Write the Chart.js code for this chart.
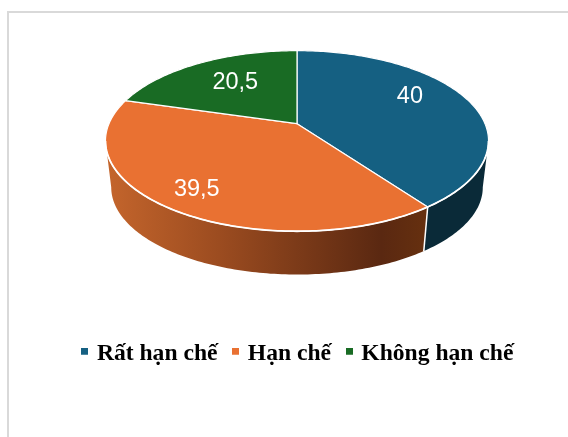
<!DOCTYPE html>
<html><head><meta charset="utf-8">
<script src="https://cdn.jsdelivr.net/npm/chart.js@4"></script>
<style>
html,body{margin:0;padding:0;background:#fff;overflow:hidden;width:568px;height:437px}
#frame{position:absolute;left:7px;top:11px;width:561px;height:426px;border-left:2px solid #d9d9d9;border-top:2px solid #d9d9d9;box-sizing:border-box}
canvas{position:absolute;left:0;top:0}
</style></head><body>
<div id="frame"></div>
<canvas id="c" width="568" height="437"></canvas>
<script>
const categories = ['Rất hạn chế', 'Hạn chế', 'Không hạn chế'];
const values = [40, 39.5, 20.5];
const valueLabels = ['40', '39,5', '20,5'];
const colors = ['#156082', '#E97132', '#196B24'];

// projective look of the tilted disc (style only; angles come from Chart.js arcs)
const view = {apexDx:-2, apexDy:-38.5, rx:188, ry:87, persp:0.191, wallDy:47, wallScale:0.97, wallRy:84};
const labelPlace = [{f:.72, shift:-9.5}, {f:.81, shift:0}, {f:.63, shift:2}];
const wallStops = [
  [['#0a2a38',0],['#0a2a38',1]],
  [['#c4652c',0],['#9c4c20',.35],['#5a2811',.86],['#66300f',1]],
  [['#196B24',0],['#196B24',1]]
];

function project(arc, th, f, lower){
  const u = f*Math.sin(th), d = -f*Math.cos(th), w = 1 + view.persp*f*Math.cos(th);
  const s = lower ? view.wallScale : 1;
  const ry = lower ? view.wallRy : view.ry;
  return {x: arc.x + view.apexDx + view.rx*s*u/w, y: arc.y + view.apexDy + (lower?view.wallDy:0) + ry*d/w};
}
function samples(a,b){const n=Math.max(8,Math.ceil(Math.abs(b-a)*60));const o=[];for(let i=0;i<=n;i++)o.push(a+(b-a)*i/n);return o;}

function squareMarker(color){
  const m=document.createElement('canvas');m.width=7;m.height=13;
  const g=m.getContext('2d');g.fillStyle=color;g.fillRect(0,0,7,7);return m;
}
const markers = colors.map(squareMarker);

const disc3d = {
  id:'disc3d',
  beforeDatasetDraw(chart){
    const ctx = chart.ctx, arcs = chart.getDatasetMeta(0).data;
    const frontA = Math.acos(-view.persp), frontB = 2*Math.PI-frontA;
    ctx.save();
    // side wall
    arcs.forEach((arc,i)=>{
      const a = Math.max(arc.startAngle+Math.PI/2, frontA), b = Math.min(arc.endAngle+Math.PI/2, frontB);
      if(b<=a) return;
      const ths = samples(a,b);
      ctx.beginPath();
      ths.forEach((t,k)=>{const p=project(arc,t,1,false);k?ctx.lineTo(p.x,p.y):ctx.moveTo(p.x,p.y);});
      ths.slice().reverse().forEach(t=>{const p=project(arc,t,1,true);ctx.lineTo(p.x,p.y);});
      ctx.closePath();
      const g=ctx.createLinearGradient(arc.x-192,0,arc.x+127,0);
      wallStops[i].forEach(s=>g.addColorStop(s[1],s[0]));
      ctx.fillStyle=g; ctx.fill();
    });
    // seam between wall pieces
    arcs.forEach(arc=>{
      const t=arc.startAngle+Math.PI/2;
      if(t>frontA&&t<frontB){const p=project(arc,t,1,false),q=project(arc,t,1,true);
        ctx.beginPath();ctx.moveTo(p.x,p.y);ctx.lineTo(q.x,q.y);ctx.strokeStyle='#fff';ctx.lineWidth=1.5;ctx.stroke();}
    });
    // top face
    arcs.forEach((arc,i)=>{
      const ths=samples(arc.startAngle+Math.PI/2, arc.endAngle+Math.PI/2);
      const c=project(arc,0,0,false);
      ctx.beginPath();ctx.moveTo(c.x,c.y);
      ths.forEach(t=>{const p=project(arc,t,1,false);ctx.lineTo(p.x,p.y);});
      ctx.closePath();
      ctx.fillStyle=colors[i];ctx.fill();
      ctx.strokeStyle='#fff';ctx.lineWidth=1.2;ctx.lineJoin='round';ctx.stroke();
    });
    // bright rim along the front edge of the top face
    ctx.beginPath();
    samples(frontA,frontB).forEach((t,k)=>{const p=project(arcs[0],t,1,false);k?ctx.lineTo(p.x,p.y):ctx.moveTo(p.x,p.y);});
    ctx.strokeStyle='#fff';ctx.lineWidth=1.8;ctx.stroke();
    // labels
    ctx.fillStyle='#fff';ctx.textAlign='center';ctx.textBaseline='middle';
    ctx.font='23.5px "Liberation Sans"';
    arcs.forEach((arc,i)=>{
      const mid=(arc.startAngle+arc.endAngle)/2+Math.PI/2+labelPlace[i].shift*Math.PI/180;
      const p=project(arc,mid,labelPlace[i].f,false);
      ctx.fillText(valueLabels[i],p.x,p.y);
    });
    ctx.restore();
    return false;
  }
};

new Chart(document.getElementById('c'),{
  type:'pie',
  data:{labels:categories,datasets:[{data:values,backgroundColor:colors,borderWidth:0}]},
  plugins:[disc3d],
  options:{
    responsive:false,animation:false,
    layout:{padding:{left:30,right:0,top:0,bottom:61}},
    plugins:{
      tooltip:{enabled:false},
      legend:{position:'bottom',labels:{
        usePointStyle:true,boxWidth:7,boxHeight:7,pointStyleWidth:0.5,
        color:'#000',padding:18,
        font:{family:'"Liberation Serif"',weight:'bold',size:23.6},
        generateLabels(chart){
          return Chart.overrides.pie.plugins.legend.labels.generateLabels(chart)
            .map((item,i)=>({...item,pointStyle:markers[i]}));
        }
      }}
    }
  }
});
</script>
</body></html>
